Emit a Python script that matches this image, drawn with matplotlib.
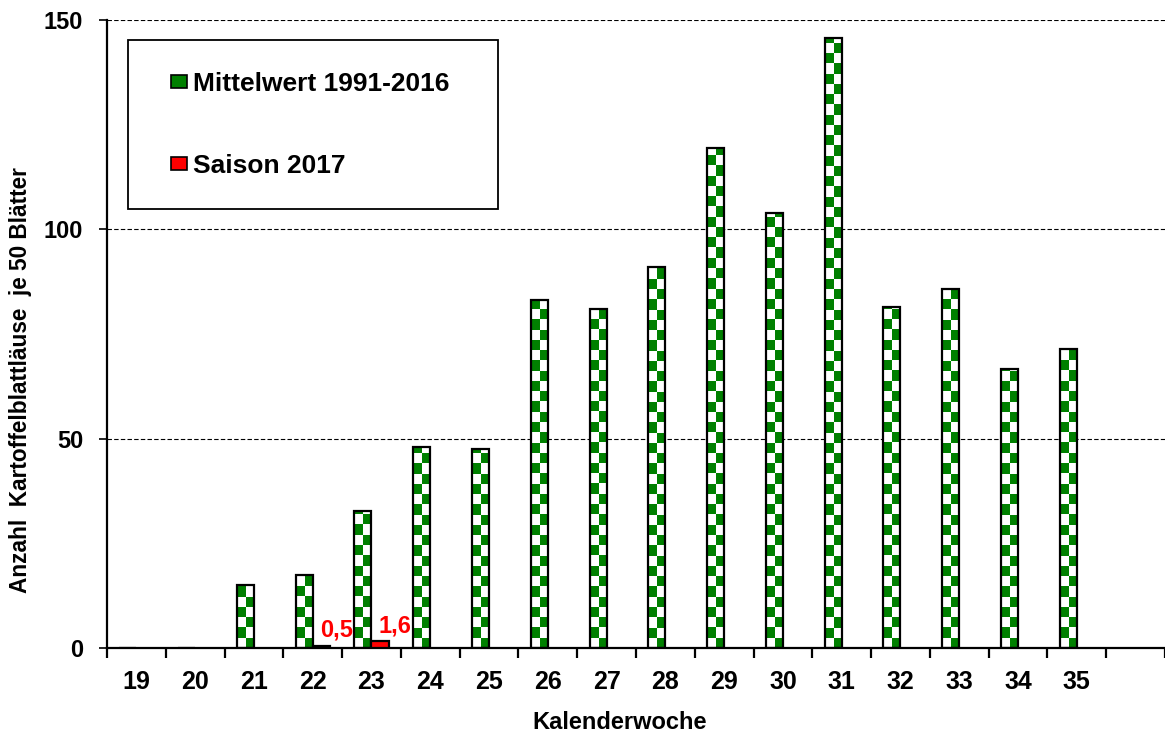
import numpy as np
import matplotlib
matplotlib.use('Agg')
import matplotlib.pyplot as plt
from matplotlib.colors import ListedColormap
from matplotlib.patches import Patch, Rectangle
from matplotlib.legend_handler import HandlerPatch

plt.rcParams['font.family'] = ['Liberation Sans', 'DejaVu Sans']
plt.rcParams['font.weight'] = 'bold'

weeks = ['19', '20', '21', '22', '23', '24', '25', '26', '27', '28', '29',
         '30', '31', '32', '33', '34', '35']
mean_1991_2016 = [0, 0, 15, 17.5, 32.8, 48, 47.5, 83, 81, 91, 119.5,
                  104, 145.7, 81.5, 85.7, 66.6, 71.5]
season_2017 = [np.nan, np.nan, np.nan, 0.5, 1.6, np.nan, np.nan, np.nan, np.nan,
               np.nan, np.nan, np.nan, np.nan, np.nan, np.nan, np.nan, np.nan]

green = '#008000'
red = '#FF0000'

fig = plt.figure(figsize=(11.65, 7.37), dpi=100)
ax = fig.add_axes([0.0918, 0.1208, 0.9082, 0.8521])

x = np.arange(len(weeks))
width = 0.29

bars_mean = ax.bar(x - width/2, mean_1991_2016, width, facecolor='none',
                   edgecolor='black', linewidth=1.6, zorder=3)
bars_2017 = ax.bar(x + width/2, season_2017, width, color=red,
                   edgecolor='black', linewidth=1.6, zorder=3)

# checkerboard fill for the long-term mean bars
cell = 2.45
checker_cmap = ListedColormap(['white', green])
for bar in bars_mean:
    h = bar.get_height()
    if h <= 0:
        continue
    x0 = bar.get_x()
    w = bar.get_width()
    n = int(np.ceil(h / cell))
    pattern = (np.arange(n)[:, None] + np.arange(2)[None, :]) % 2
    im = ax.imshow(pattern, cmap=checker_cmap, extent=[x0, x0 + w, 0, n * cell],
                   origin='lower', interpolation='nearest', aspect='auto', zorder=2)
    im.set_clip_path(bar)

for bar, v in zip(bars_2017, season_2017):
    if np.isnan(v):
        continue
    ax.annotate(f'{v:.1f}'.replace('.', ','),
                xy=(bar.get_x() + bar.get_width() / 2, v),
                xytext=(11, 3), textcoords='offset points',
                ha='center', va='bottom', fontsize=17, color=red, fontweight='bold')

ax.set_xlim(-0.5, len(weeks) + 0.5)
ax.set_ylim(0, 150)
ax.set_aspect('auto')

ax.set_yticks([0, 50, 100, 150])
for yv in [50, 100, 150]:
    ax.axhline(yv, color='black', linestyle=(0, (4, 2)), linewidth=0.8, zorder=1)

ax.set_xticks(x)
ax.set_xticklabels(weeks)
ax.set_xticks(np.arange(-0.5, len(weeks) + 1, 1), minor=True)
ax.tick_params(axis='x', which='major', length=0, pad=16, labelsize=18)
ax.tick_params(axis='x', which='minor', length=7, width=1.6, direction='out')
ax.tick_params(axis='y', length=6, width=1.2, direction='out', pad=11, labelsize=17)

ax.spines['top'].set_visible(False)
ax.spines['right'].set_visible(False)
ax.spines['left'].set_linewidth(1.6)
ax.spines['bottom'].set_linewidth(1.6)

ax.set_xlabel('Kalenderwoche', fontsize=17, fontweight='bold')
ax.xaxis.set_label_coords(0.485, -0.1)
ax.set_ylabel('Anzahl  Kartoffelblattläuse  je 50 Blätter', fontsize=16.3,
              fontweight='bold')
ax.yaxis.set_label_coords(-0.071, 0.427)


def small_square(legend, orig_handle, xdescent, ydescent, width, height, fontsize):
    side = height * 1.0
    return Rectangle((-xdescent + width - side, -ydescent + height * 0.1),
                     side, height * 0.8)


handles = [Patch(facecolor=green, edgecolor='black', linewidth=1.2),
           Patch(facecolor=red, edgecolor='black', linewidth=1.2)]
leg = ax.legend(handles, ['Mittelwert 1991-2016', 'Saison 2017'],
                loc='upper left', bbox_to_anchor=(0.0198, 0.968, 0.35, 0.0),
                mode='expand', fancybox=False, edgecolor='black', framealpha=1,
                prop={'size': 19, 'weight': 'bold'}, handlelength=1.05,
                handleheight=0.6, handletextpad=0.2, borderpad=1.2,
                labelspacing=2.2, borderaxespad=0,
                handler_map={Patch: HandlerPatch(patch_func=small_square)})
leg.get_frame().set_linewidth(1.3)
leg.set_zorder(5)

plt.savefig('out.png', dpi=100)
